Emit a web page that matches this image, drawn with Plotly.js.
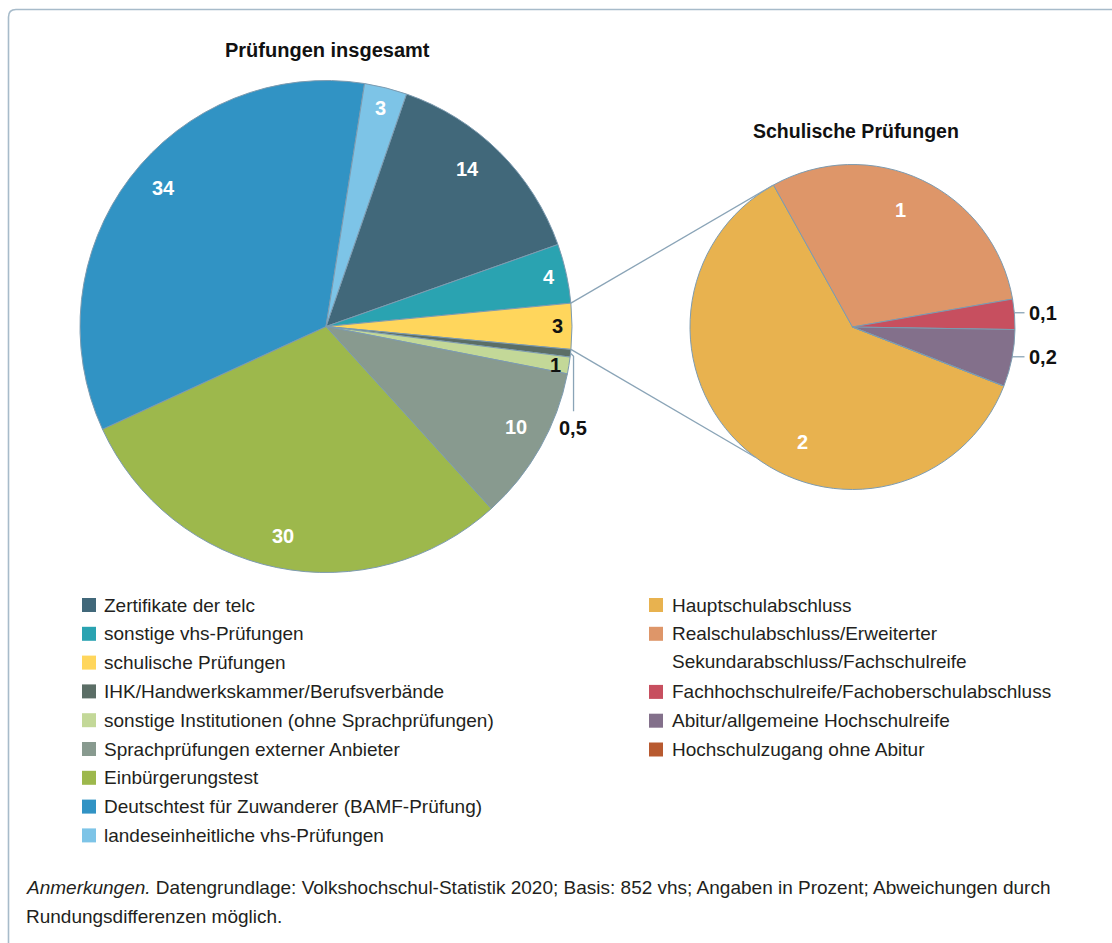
<!DOCTYPE html>
<html>
<head>
<meta charset="utf-8">
<script src="https://cdn.plot.ly/plotly-3.0.1.min.js"></script>
<style>
html,body{margin:0;padding:0;background:#ffffff;}
#chart{width:1112px;height:943px;}
</style>
</head>
<body>
<div id="chart"></div>
<script>
// ---------- data ----------
const mainLabels = [
  'Zertifikate der telc',
  'sonstige vhs-Prüfungen',
  'schulische Prüfungen',
  'IHK/Handwerkskammer/Berufsverbände',
  'sonstige Institutionen (ohne Sprachprüfungen)',
  'Sprachprüfungen externer Anbieter',
  'Einbürgerungstest',
  'Deutschtest für Zuwanderer (BAMF-Prüfung)',
  'landeseinheitliche vhs-Prüfungen'
];
const mainValues = [14.3, 3.9, 3.0, 0.5, 1.1, 10.2, 29.9, 34.4, 2.8];
const mainText = ['14', '4', '3', '0,5', '1', '10', '30', '34', '3'];

const schoolLabels = [
  'Hauptschulabschluss',
  'Realschulabschluss/Erweiterter',
  'Fachhochschulreife/Fachoberschulabschluss',
  'Abitur/allgemeine Hochschulreife',
  'Hochschulzugang ohne Abitur'
];
const schoolLabelSecondLine = ['', 'Sekundarabschluss/Fachschulreife', '', '', ''];
const schoolValues = [1.83, 0.91, 0.09, 0.17, 0];
const schoolText = ['2', '1', '0,1', '0,2', ''];

const titleMain = 'Prüfungen insgesamt';
const titleSchool = 'Schulische Prüfungen';
const noteItalic = 'Anmerkungen.';
const noteLine1 = ' Datengrundlage: Volkshochschul-Statistik 2020; Basis: 852 vhs; Angaben in Prozent; Abweichungen durch';
const noteLine2 = 'Rundungsdifferenzen möglich.';

// ---------- styles ----------
const mainColors = ['#41687a', '#2aa3b1', '#ffd65c', '#5b6e66', '#c3d898', '#889a8f', '#9db84c', '#3193c4', '#7dc4e7'];
const schoolColors = ['#e8b24f', '#de9669', '#c74f5f', '#83708b', '#b85a30'];
const mainLabelStyle = [
  {rf: 0.86, off: -3, color: '#ffffff'},
  {rf: 0.93, off: 0, color: '#ffffff'},
  {rf: 0.94, off: 0, color: '#111111'},
  {outside: true},
  {rf: 0.945, off: 0.5, color: '#111111'},
  {rf: 0.875, off: -1.5, color: '#ffffff'},
  {rf: 0.87, off: 0, color: '#ffffff'},
  {rf: 0.87, off: 3.3, color: '#ffffff'},
  {rf: 0.915, off: 0, color: '#ffffff'}
];
const schoolLabelStyle = [
  {rf: 0.77, off: -17.6, color: '#ffffff'},
  {rf: 0.78, off: -3.2, color: '#ffffff'},
  {outside: true},
  {outside: true},
  {none: true}
];

const W = 1112, H = 943;
const FONT = '"Liberation Sans", Arial, sans-serif';
const TXT = '#231f20';
const LINE = '#8aa4b7';
const mainGeo = {cx: 326, cy: 326.5, r: 246, rot: 19.1};
const schoolGeo = {cx: 852.5, cy: 327, r: 162.5, rot: 111.3};

function dom(g) { return {x: [(g.cx - g.r) / W, (g.cx + g.r) / W], y: [1 - (g.cy + g.r) / H, 1 - (g.cy - g.r) / H]}; }
function polar(g, rr, deg) { const a = deg * Math.PI / 180; return [g.cx + rr * Math.sin(a), g.cy - rr * Math.cos(a)]; }
function X(p) { return p / W; }
function Y(p) { return 1 - p / H; }
function sliceAngles(values, rot) {
  const tot = values.reduce((a, b) => a + b, 0);
  let c = rot;
  return values.map(v => { const a0 = c; c += v / tot * 360; return [a0, c]; });
}

const pieLine = {color: '#7d9bb0', width: 1};
const traces = [
  {
    type: 'pie', labels: mainLabels, values: mainValues, sort: false, direction: 'clockwise',
    rotation: mainGeo.rot, domain: dom(mainGeo), marker: {colors: mainColors, line: pieLine},
    textinfo: 'none', hoverinfo: 'label+value', showlegend: false
  },
  {
    type: 'pie', labels: schoolLabels, values: schoolValues, sort: false, direction: 'clockwise',
    rotation: schoolGeo.rot, domain: dom(schoolGeo), marker: {colors: schoolColors, line: pieLine},
    textinfo: 'none', hoverinfo: 'label+value', showlegend: false
  }
];

const annotations = [];
const shapes = [];
const labelFont = (c) => ({family: FONT, size: 20, color: c});

function addPieLabels(g, values, texts, styles) {
  const ang = sliceAngles(values, g.rot);
  values.forEach((v, i) => {
    const s = styles[i];
    if (s.none || !texts[i]) return;
    const mid = (ang[i][0] + ang[i][1]) / 2;
    if (!s.outside) {
      const p = polar(g, g.r * s.rf, mid + s.off);
      annotations.push({x: X(p[0]), y: Y(p[1]), xref: 'paper', yref: 'paper', text: '<b>' + texts[i] + '</b>',
        showarrow: false, xanchor: 'center', yanchor: 'middle', font: labelFont(s.color)});
    } else if (g === mainGeo) {
      const p = polar(g, g.r, mid);
      const xv = p[0] + 3;
      shapes.push({type: 'path', xref: 'paper', yref: 'paper',
        path: `M ${X(p[0])},${Y(p[1])} L ${X(xv)},${Y(p[1] + 3)} L ${X(xv)},${Y(p[1] + 58)}`,
        line: {color: LINE, width: 1.3}});
      annotations.push({x: X(xv - 0.5), y: Y(p[1] + 75), xref: 'paper', yref: 'paper', text: '<b>' + texts[i] + '</b>',
        showarrow: false, xanchor: 'center', yanchor: 'middle', font: labelFont('#111111')});
    } else {
      const p = polar(g, g.r, mid);
      const xe = g.cx + g.r + 9.5;
      shapes.push({type: 'line', xref: 'paper', yref: 'paper', x0: X(p[0]), y0: Y(p[1] - 1.5), x1: X(xe), y1: Y(p[1] - 1.5),
        line: {color: LINE, width: 1.3}});
      annotations.push({x: X(xe + 2), y: Y(p[1] - 1.5), xref: 'paper', yref: 'paper', text: '<b>' + texts[i] + '</b>',
        showarrow: false, xanchor: 'left', yanchor: 'middle', font: labelFont('#111111')});
    }
  });
}
addPieLabels(mainGeo, mainValues, mainText, mainLabelStyle);
addPieLabels(schoolGeo, schoolValues, schoolText, schoolLabelStyle);

// connector lines between "schulische Prüfungen" slice and the second pie
(function () {
  const ang = sliceAngles(mainValues, mainGeo.rot);
  const sAng = sliceAngles(schoolValues, schoolGeo.rot);
  const a = polar(mainGeo, mainGeo.r, ang[2][0]);
  const b = polar(mainGeo, mainGeo.r, ang[2][1]);
  const c = polar(schoolGeo, schoolGeo.r, sAng[0][1]);
  const d = polar(schoolGeo, schoolGeo.r, 216.7);
  [[a, c], [b, d]].forEach(([p, q]) => shapes.push({type: 'line', xref: 'paper', yref: 'paper',
    x0: X(p[0]), y0: Y(p[1]), x1: X(q[0]), y1: Y(q[1]), line: {color: LINE, width: 1.3}}));
})();

// titles
annotations.push({x: X(327), y: Y(50), xref: 'paper', yref: 'paper', text: '<b>' + titleMain + '</b>', showarrow: false,
  xanchor: 'center', yanchor: 'middle', font: {family: FONT, size: 20, color: '#111111'}});
annotations.push({x: X(856), y: Y(131), xref: 'paper', yref: 'paper', text: '<b>' + titleSchool + '</b>', showarrow: false,
  xanchor: 'center', yanchor: 'middle', font: {family: FONT, size: 19.5, color: '#111111'}});

// legend (two columns)
const LEG_FONT = {family: FONT, size: 19, color: TXT};
function legendItem(xSq, xTxt, yc, color, text) {
  shapes.push({type: 'rect', xref: 'paper', yref: 'paper', x0: X(xSq), x1: X(xSq + 14), y0: Y(yc - 7), y1: Y(yc + 7),
    fillcolor: color, line: {width: 0}});
  annotations.push({x: X(xTxt), y: Y(yc), xref: 'paper', yref: 'paper', text: text, showarrow: false,
    xanchor: 'left', yanchor: 'middle', font: LEG_FONT});
}
const ROW = 28.8;
mainLabels.forEach((lab, i) => legendItem(82, 102, 605 + i * ROW, mainColors[i], lab));
let yr = 605;
schoolLabels.forEach((lab, i) => {
  legendItem(649, 670, yr, schoolColors[i], lab);
  if (schoolLabelSecondLine[i]) {
    yr += ROW;
    annotations.push({x: X(670), y: Y(yr - 1), xref: 'paper', yref: 'paper', text: schoolLabelSecondLine[i], showarrow: false,
      xanchor: 'left', yanchor: 'middle', font: LEG_FONT});
  }
  yr += ROW + (schoolLabelSecondLine[i] ? 0.5 : 0);
});

// footnote
annotations.push({x: X(24), y: Y(887), xref: 'paper', yref: 'paper', text: '<i>' + noteItalic + '</i>' + noteLine1,
  showarrow: false, xanchor: 'left', yanchor: 'middle', font: {family: FONT, size: 19, color: TXT}});
annotations.push({x: X(24), y: Y(916), xref: 'paper', yref: 'paper', text: noteLine2,
  showarrow: false, xanchor: 'left', yanchor: 'middle', font: {family: FONT, size: 19, color: TXT}});

// frame
shapes.push({type: 'path', xref: 'paper', yref: 'paper',
  path: `M ${X(8.5)},${Y(H + 5)} L ${X(8.5)},${Y(17)} Q ${X(8.5)},${Y(9.5)} ${X(16)},${Y(9.5)} L ${X(W + 5)},${Y(9.5)}`,
  line: {color: '#a7bbca', width: 1.6}});

const layout = {
  width: W, height: H,
  margin: {l: 0, r: 0, t: 0, b: 0},
  paper_bgcolor: '#ffffff', plot_bgcolor: '#ffffff',
  showlegend: false,
  font: {family: FONT, color: TXT},
  annotations: annotations,
  shapes: shapes
};
Plotly.newPlot('chart', traces, layout, {displayModeBar: false, staticPlot: true});
</script>
</body>
</html>
